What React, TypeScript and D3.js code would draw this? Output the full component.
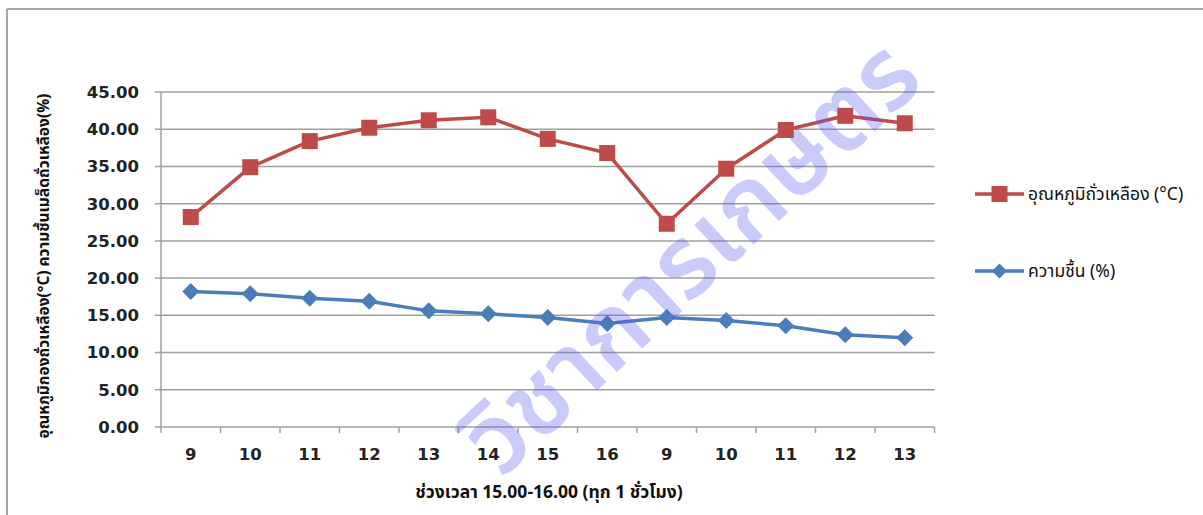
import React from "react";
import * as d3 from "d3";

const categories = ["9", "10", "11", "12", "13", "14", "15", "16", "9", "10", "11", "12", "13"];
const tempValues = [28.2, 34.9, 38.4, 40.2, 41.2, 41.6, 38.7, 36.8, 27.3, 34.7, 39.9, 41.8, 40.8];
const humidValues = [18.2, 17.9, 17.3, 16.9, 15.6, 15.2, 14.7, 13.9, 14.7, 14.3, 13.6, 12.4, 12.0];
const yTicks = [0, 5, 10, 15, 20, 25, 30, 35, 40, 45];
const seriesNames = ["อุณหภูมิถั่วเหลือง (°C)", "ความชื้น (%)"];
const yTitle = "อุณหภูมิกองถั่วเหลือง(°C) ความชื้นเมล็ดถั่วเหลือง(%)";
const xTitle = "ช่วงเวลา 15.00-16.00 (ทุก 1 ชั่วโมง)";
const watermark = "วิชาการเกษตร";

const W = 1203;
const H = 515;
const left = 161;
const right = 934.5;
const top = 92;
const bottom = 427;

const RED = "#BE4B48";
const BLUE = "#4A7EBB";
const GRID = "#A0A0A0";

export default function App() {
  const idx = categories.map((_, i) => String(i));
  const x = d3.scaleBand<string>().domain(idx).range([left, right]).padding(0);
  const y = d3.scaleLinear().domain([0, 45]).range([bottom, top]);
  const cx = (i: number) => (x(String(i)) as number) + x.bandwidth() / 2;
  const line = d3
    .line<number>()
    .x((_, i) => cx(i))
    .y((d) => y(d));

  const boundaries = d3.range(categories.length + 1).map((i) => left + i * x.bandwidth());
  const sq = 16;
  const diamond = (px: number, py: number, r: number) =>
    `M${px},${py - r}L${px + r},${py}L${px},${py + r}L${px - r},${py}Z`;

  const numFont = "'DejaVu Sans', sans-serif";
  const thaiFont = "'Noto Sans Thai', 'Noto Serif Thai', 'Loma', 'Garuda', 'DejaVu Sans', serif";

  return (
    <div style={{ position: "absolute", left: 0, top: 0 }}>
      <svg width={W} height={H} style={{ display: "block", background: "#fff" }}>
        <rect x={0} y={0} width={W} height={H} fill="#fff" />
        {/* frame (top & left only visible) */}
        <line x1={7} y1={9} x2={W} y2={9} stroke="#A6A6A6" strokeWidth={2} />
        <line x1={7} y1={9} x2={7} y2={H} stroke="#A6A6A6" strokeWidth={2} />

        {/* gridlines */}
        {yTicks.map((t) => (
          <line key={"g" + t} x1={left - 6} x2={right} y1={y(t)} y2={y(t)} stroke={GRID} strokeWidth={1.5} />
        ))}
        {/* y axis */}
        <line x1={left} x2={left} y1={top} y2={bottom} stroke={GRID} strokeWidth={1.5} />
        {/* x ticks */}
        {boundaries.map((b, i) => (
          <line key={"xt" + i} x1={b} x2={b} y1={bottom} y2={bottom + 6} stroke={GRID} strokeWidth={1.5} />
        ))}

        {/* y labels */}
        {yTicks.map((t) => (
          <text
            key={"yl" + t}
            x={139}
            y={y(t)}
            dy="0.36em"
            textAnchor="end"
            fontFamily={numFont}
            fontWeight="bold"
            fontSize={16.5}
            fill="#222"
          >
            {t.toFixed(2)}
          </text>
        ))}
        {/* x labels */}
        {categories.map((c, i) => (
          <text
            key={"xl" + i}
            x={cx(i)}
            y={460}
            textAnchor="middle"
            fontFamily={numFont}
            fontWeight="bold"
            fontSize={16.5}
            fill="#222"
          >
            {c}
          </text>
        ))}

        {/* series lines */}
        <path d={line(tempValues) || ""} fill="none" stroke={RED} strokeWidth={3.5} strokeLinejoin="round" />
        <path d={line(humidValues) || ""} fill="none" stroke={BLUE} strokeWidth={3.5} strokeLinejoin="round" />
        {tempValues.map((v, i) => (
          <rect key={"s" + i} x={cx(i) - sq / 2} y={y(v) - sq / 2} width={sq} height={sq} fill={RED} />
        ))}
        {humidValues.map((v, i) => (
          <path key={"d" + i} d={diamond(cx(i), y(v), 8.5)} fill={BLUE} />
        ))}

        {/* axis titles */}
        <text
          transform={`translate(49,266) rotate(-90)`}
          textAnchor="middle"
          fontFamily={thaiFont}
          fontWeight="bold"
          fontSize={15.5}
          fill="#111"
        >
          {yTitle}
        </text>
        <text x={549} y={498} textAnchor="middle" fontFamily={thaiFont} fontWeight="bold" fontSize={17.5} fill="#111">
          {xTitle}
        </text>

        {/* legend */}
        <line x1={975} x2={1024} y1={194} y2={194} stroke={RED} strokeWidth={3.5} />
        <rect x={999.5 - sq / 2} y={194 - sq / 2} width={sq} height={sq} fill={RED} />
        <text x={1028} y={194} dy="0.35em" fontFamily={thaiFont} fontSize={17.5} fill="#111">
          {seriesNames[0]}
        </text>
        <line x1={975} x2={1024} y1={271} y2={271} stroke={BLUE} strokeWidth={3.5} />
        <path d={diamond(999.5, 271, 7.5)} fill={BLUE} />
        <text x={1028} y={271} dy="0.35em" fontFamily={thaiFont} fontSize={17.5} fill="#111">
          {seriesNames[1]}
        </text>

        {/* watermark */}
        <text
          transform={`translate(690,256) rotate(-43)`}
          textAnchor="middle"
          dy="0.35em"
          fontFamily={thaiFont}
          fontWeight="600"
          fontSize={100}
          fill="#5a5af2"
          fillOpacity={0.32}
        >
          {watermark}
        </text>
      </svg>
    </div>
  );
}
